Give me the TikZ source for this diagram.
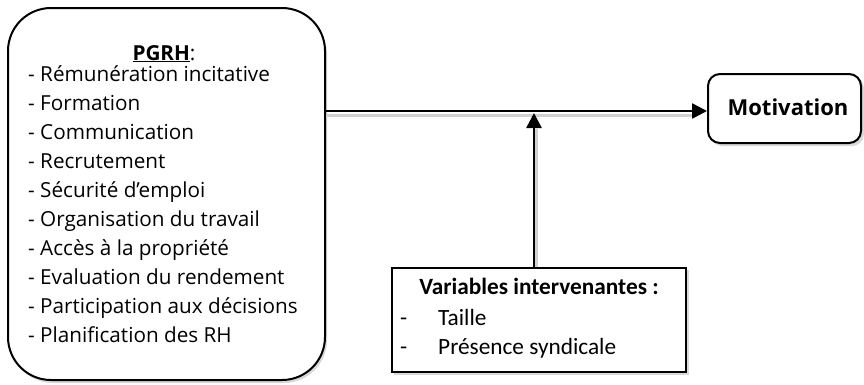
\documentclass[tikz,border=0pt]{standalone}
\usepackage{fontspec}
\setmainfont{Open Sans}
\newfontfamily\calib{Carlito}
\usetikzlibrary{arrows.meta}
\begin{document}
\begin{tikzpicture}[x=1pt,y=-1pt,
  frame/.style={draw=black,line width=2pt,fill=white},
  conn/.style={line width=2.6pt,-{Triangle[length=15pt,width=15pt]}},
  connshadow/.style={line width=2.6pt,draw=black!18},
  txt/.style={inner sep=0pt,anchor=base west,font=\fontsize{20.7}{24}\selectfont},
  vtxt/.style={inner sep=0pt,anchor=base west,font=\calib\fontsize{23.3}{26}\selectfont}
]
\useasboundingbox (0,0) rectangle (864,384);
% shadows
\fill[black!15,rounded corners=43pt] (10,11) rectangle (327,383);
\fill[black!15,rounded corners=12pt] (710,76) rectangle (864,146);
\fill[black!15] (394,270) rectangle (689,375);
% boxes
\node[frame,rounded corners=43pt,minimum width=317pt,minimum height=372pt,inner sep=0pt] (pgrh) at (166.5,194) {};
\node[frame,rounded corners=12pt,minimum width=153pt,minimum height=69pt,inner sep=0pt] (mot) at (784.5,108.5) {};
\node[draw=black,line width=1.5pt,fill=white,minimum width=294pt,minimum height=104pt,inner sep=0pt] (var) at (539,320) {};
% texts
\node[inner sep=0pt,anchor=base,font=\fontsize{20.7}{24}\selectfont] (t0) at (164,60) {\underline{\textbf{PGRH}}:};
\foreach \i/\t in {0/Rémunération incitative,1/Formation,2/Communication,3/Recrutement,4/Sécurité d’emploi,5/Organisation du travail,6/Accès à la propriété,7/Evaluation du rendement,8/Participation aux décisions,9/Planification des RH}
  \node[txt] (l\i) at (28,{81.5+29*\i}) {- \t};
\node[inner sep=0pt,anchor=base,font=\fontsize{22}{24}\selectfont\bfseries] (mt) at (788,115) {Motivation};
\node[inner sep=0pt,anchor=base,font=\calib\fontsize{23.3}{26}\selectfont\bfseries] (vt) at (539,294) {Variables intervenantes :};
\node[vtxt] (d1) at (400,325) {-};
\node[vtxt] (v1) at (438,325) {Taille};
\node[vtxt] (d2) at (400,354) {-};
\node[vtxt] (v2) at (438,354) {Présence syndicale};
% connectors
\coordinate (j) at (534,111);
\draw[connshadow] ([yshift=-4.5pt]pgrh.east |- j) -- ([xshift=-14pt,yshift=-4.5pt]mot.west |- j);
\draw[connshadow] ([xshift=2.5pt]var.north -| j) -- ([xshift=2.5pt,yshift=-18pt]j);
\draw[conn] (pgrh.east |- j) -- (mot.west |- j);
\draw[conn] (var.north -| j) -- ([yshift=-2pt]j);
\end{tikzpicture}
\end{document}
